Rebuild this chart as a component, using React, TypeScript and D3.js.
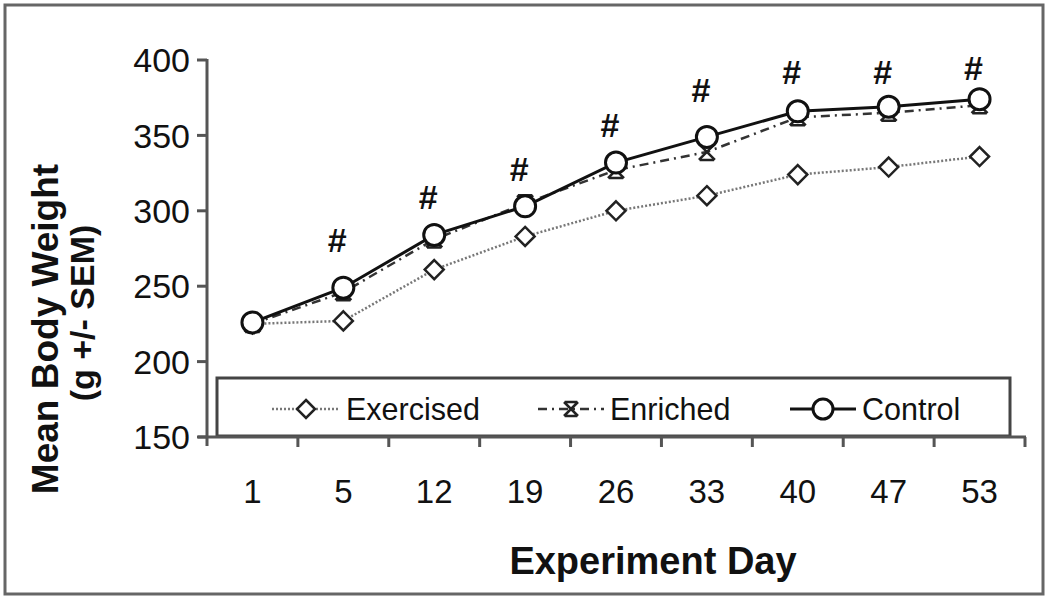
import React from "react";
import * as d3 from "d3";

const days = ["1", "5", "12", "19", "26", "33", "40", "47", "53"];
const exercised = [225, 227, 261, 283, 300, 310, 324, 329, 336];
const enriched = [225, 246, 281, 305, 327, 339, 362, 365, 370];
const control = [226, 249, 284, 303, 332, 349, 366, 369, 374];
const hashY = [281, 309, 328, 357, 380, 392, 392, 395];
const hashDays = ["5", "12", "19", "26", "33", "40", "47", "53"];
const yTicks = [150, 200, 250, 300, 350, 400];

const W = 1050, H = 598;
const FONT = "'Liberation Sans', Arial, sans-serif";

export default function App() {
  const x = d3.scaleBand().domain(days).range([207, 1025]);
  const y = d3.scaleLinear().domain([150, 400]).range([437, 60]);
  const cx = (d: string) => (x(d) as number) + x.bandwidth() / 2;
  const line = d3.line<number>().x((_, i) => cx(days[i])).y((v) => y(v));
  const ticksX = days.map((d) => x(d) as number).slice(1).concat([1025]);
  const diamond = (r: number) => `M0,${-r}L${r},0L0,${r}L${-r},0Z`;
  const star = (r: number) => `M${-r},${-r}L${r},${r}M${-r},${r}L${r},${-r}M${-r * 0.9},${-r}H${r * 0.9}M${-r * 0.9},${r}H${r * 0.9}`;

  return (
    <div style={{ position: "fixed", left: 0, top: 0 }}>
      <svg width={W} height={H} style={{ display: "block", background: "#fff" }} fontFamily={FONT}>
        <rect x={5} y={5} width={1038} height={589} fill="#fff" stroke="#666" strokeWidth={3} />
        {/* Legend box */}
        <rect x={217} y={378} width={793} height={58} fill="#fff" stroke="#444" strokeWidth={3} />
        {/* axes */}
        <line x1={207} x2={207} y1={59} y2={446} stroke="#555" strokeWidth={3} />
        <line x1={198} x2={1026} y1={y(150)} y2={y(150)} stroke="#555" strokeWidth={3} />
        {yTicks.map((t) => (
          <g key={t}>
            <line x1={197} x2={207} y1={y(t)} y2={y(t)} stroke="#555" strokeWidth={3} />
            <text x={190} y={y(t)} dy="0.36em" textAnchor="end" fontSize={34} fill="#111">{t}</text>
          </g>
        ))}
        {ticksX.map((t, i) => (
          <line key={i} x1={t} x2={t} y1={y(150)} y2={y(150) + 10} stroke="#555" strokeWidth={3} />
        ))}
        {days.map((d) => (
          <text key={d} x={cx(d)} y={503} textAnchor="middle" fontSize={33} fill="#111">{d}</text>
        ))}
        {/* titles */}
        <text x={653} y={574} textAnchor="middle" fontSize={38} fontWeight="bold" fill="#111">Experiment Day</text>
        <text transform="translate(58,329) rotate(-90)" textAnchor="middle" fontSize={37} fontWeight="bold" fill="#111">Mean Body Weight</text>
        <text transform="translate(94,313) rotate(-90)" textAnchor="middle" fontSize={34} fontWeight="bold" fill="#111">(g +/- SEM)</text>
        {/* series lines */}
        <path d={line(exercised) || ""} fill="none" stroke="#777" strokeWidth={2.5} strokeDasharray="2,2" />
        <path d={line(enriched) || ""} fill="none" stroke="#333" strokeWidth={2.5} strokeDasharray="9,5,2,5" />
        <path d={line(control) || ""} fill="none" stroke="#111" strokeWidth={3} />
        {exercised.map((v, i) => (
          <path key={"e" + i} d={diamond(9.5)} transform={`translate(${cx(days[i])},${y(v)})`} fill="#fff" stroke="#222" strokeWidth={2.5} />
        ))}
        {enriched.map((v, i) => (
          <path key={"n" + i} d={star(8)} transform={`translate(${cx(days[i])},${y(v)})`} fill="none" stroke="#222" strokeWidth={2.5} />
        ))}
        {control.map((v, i) => (
          <circle key={"c" + i} cx={cx(days[i])} cy={y(v)} r={10.5} fill="#fff" stroke="#111" strokeWidth={3} />
        ))}
        {hashDays.map((d, i) => (
          <text key={"h" + d} x={cx(d) - 6} y={y(hashY[i])} dy="0.36em" textAnchor="middle" fontSize={34} fontWeight="bold" fill="#111">#</text>
        ))}
        {/* legend */}
        <g transform="translate(0,409)">
          <line x1={272} x2={340} y1={0} y2={0} stroke="#777" strokeWidth={2.5} strokeDasharray="2,2" />
          <path d={diamond(9)} transform="translate(306,0)" fill="#fff" stroke="#222" strokeWidth={2.5} />
          <text x={346} y={0} dy="0.36em" fontSize={30.5} fill="#111">Exercised</text>
          <line x1={538} x2={604} y1={0} y2={0} stroke="#333" strokeWidth={2.5} strokeDasharray="9,5,2,5" />
          <path d={star(7)} transform="translate(571,0)" fill="none" stroke="#222" strokeWidth={2.5} />
          <text x={610} y={0} dy="0.36em" fontSize={30.5} fill="#111">Enriched</text>
          <line x1={790} x2={856} y1={0} y2={0} stroke="#111" strokeWidth={3} />
          <circle cx={823} cy={0} r={10} fill="#fff" stroke="#111" strokeWidth={3} />
          <text x={862} y={0} dy="0.36em" fontSize={30.5} fill="#111">Control</text>
        </g>
      </svg>
    </div>
  );
}
